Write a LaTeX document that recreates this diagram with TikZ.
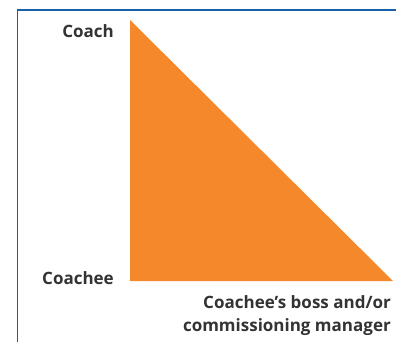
\documentclass[tikz,border=0pt]{standalone}
\usepackage{fontspec}
\setmainfont{Open Sans}
\definecolor{frameblue}{RGB}{22,96,170}
\definecolor{triorange}{RGB}{245,136,42}
\definecolor{labelgray}{RGB}{51,51,51}
\tikzset{
  lbl/.style={font=\fontsize{17}{23}\selectfont\bfseries, text=labelgray, inner sep=0pt},
}
\begin{document}
\begin{tikzpicture}[x=1pt,y=-1pt]
\useasboundingbox (0,0) rectangle (396,342);
\coordinate (fb) at (17.5,342);
\coordinate (fc) at (17.5,10);
\coordinate (fr) at (396,10);
\draw[frameblue, line width=1.4pt] (fb) -- (fc) -- (fr);
\coordinate (top) at (130,20);
\coordinate (bl) at (130,281);
\coordinate (br) at (393,281);
\fill[triorange] (top) -- (bl) -- (br) -- cycle;
\node[lbl, anchor=base east] (coach) at (114,38) {Coach};
\node[lbl, anchor=base east] (coachee) at (114,284) {Coachee};
\node[lbl, anchor=base east, align=right] (boss) at (391,331) {Coachee’s boss and/or\\commissioning manager};
\end{tikzpicture}
\end{document}
